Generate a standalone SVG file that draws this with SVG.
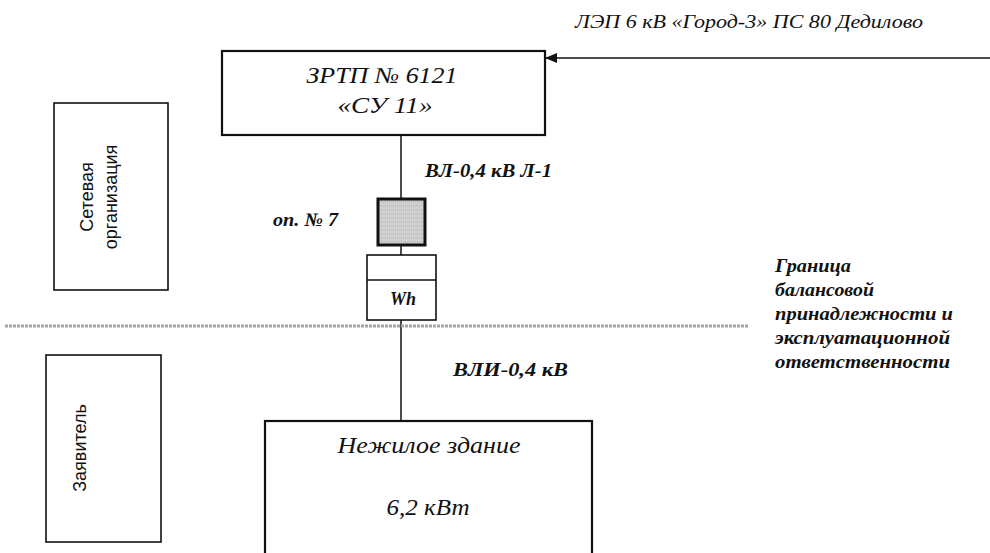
<svg xmlns="http://www.w3.org/2000/svg" width="990" height="553" viewBox="0 0 990 553">
<style>
.box{fill:#fff;stroke:#111;stroke-width:2.2}
.thin{fill:#fff;stroke:#111;stroke-width:1.6}
.ln{stroke:#111;stroke-width:1.5;fill:none}
.it{font-family:"Liberation Serif","Times New Roman",serif;font-style:italic;fill:#111}
.bi{font-family:"Liberation Serif","Times New Roman",serif;font-style:italic;font-weight:bold;fill:#111}
.sans{font-family:"Liberation Sans",Arial,sans-serif;fill:#111}
</style>
<defs>
<marker id="arr" markerWidth="12" markerHeight="10" refX="11" refY="5" orient="auto" markerUnits="userSpaceOnUse">
<path d="M0,0 L12,5 L0,10 z" fill="#111"/>
</marker>
<pattern id="dots" width="4" height="4" patternUnits="userSpaceOnUse">
<rect width="4" height="4" fill="#d0d0d0"/>
<rect x="1" y="1" width="1" height="1" fill="#a8a8a8"/>
<rect x="3" y="2" width="1" height="1" fill="#b8b8b8"/>
</pattern>
</defs>

<g id="connectors">
<line class="ln" x1="990" y1="58" x2="546" y2="58" marker-end="url(#arr)"/>
<line class="ln" x1="401" y1="135" x2="401" y2="198"/>
<line class="ln" x1="401" y1="246" x2="401" y2="255"/>
<line class="ln" x1="401" y1="320" x2="401" y2="421"/>
<line x1="5" y1="326" x2="748" y2="326" stroke="#a5a5a5" stroke-width="3" stroke-dasharray="3 1"/>
</g>

<g id="lep-label">
<text class="it" x="575" y="28" font-size="19" textLength="348" lengthAdjust="spacingAndGlyphs">ЛЭП 6 кВ «Город-3» ПС 80 Дедилово</text>
</g>

<g id="zrtp">
<rect class="box" x="222" y="51" width="323" height="84"/>
<text class="it" x="382" y="83" font-size="23" text-anchor="middle" textLength="151" lengthAdjust="spacingAndGlyphs">ЗРТП № 6121</text>
<text class="it" x="385" y="113" font-size="23" text-anchor="middle" textLength="95" lengthAdjust="spacingAndGlyphs">«СУ 11»</text>
</g>

<g id="vl-label">
<text class="bi" x="425" y="177" font-size="19.5" textLength="127" lengthAdjust="spacingAndGlyphs">ВЛ-0,4 кВ Л-1</text>
</g>

<g id="op7">
<rect x="378" y="199" width="47" height="46" fill="url(#dots)" stroke="#111" stroke-width="3"/>
<text class="bi" x="273" y="226" font-size="19" textLength="65" lengthAdjust="spacingAndGlyphs">оп. № 7</text>
</g>

<g id="meter">
<rect class="thin" x="367" y="255" width="69" height="65"/>
<line class="ln" x1="367" y1="280" x2="436" y2="280"/>
<text class="bi" x="390" y="305" font-size="18" textLength="26" lengthAdjust="spacingAndGlyphs">Wh</text>
</g>

<g id="setevaya">
<rect class="thin" x="54" y="103" width="114" height="187"/>
<text class="sans" font-size="18" text-anchor="middle" transform="translate(93,197) rotate(-90)">Сетевая</text>
<text class="sans" font-size="18" text-anchor="middle" transform="translate(117,197) rotate(-90)">организация</text>
</g>

<g id="boundary">
<text class="bi" x="775" y="272" font-size="19.5" textLength="76" lengthAdjust="spacingAndGlyphs">Граница</text>
<text class="bi" x="775" y="296" font-size="19.5" textLength="99" lengthAdjust="spacingAndGlyphs">балансовой</text>
<text class="bi" x="775" y="320" font-size="19.5" textLength="178" lengthAdjust="spacingAndGlyphs">принадлежности и</text>
<text class="bi" x="775" y="344" font-size="19.5" textLength="175" lengthAdjust="spacingAndGlyphs">эксплуатационной</text>
<text class="bi" x="775" y="368" font-size="19.5" textLength="175" lengthAdjust="spacingAndGlyphs">ответственности</text>
</g>

<g id="vli-label">
<text class="bi" x="453" y="376" font-size="19.5" textLength="115" lengthAdjust="spacingAndGlyphs">ВЛИ-0,4 кВ</text>
</g>

<g id="zayavitel">
<rect class="thin" x="46" y="355" width="115" height="187"/>
<text class="sans" font-size="18" text-anchor="middle" transform="translate(86,448) rotate(-90)">Заявитель</text>
</g>

<g id="building">
<rect class="box" x="265" y="421" width="327" height="140"/>
<text class="it" x="429" y="453" font-size="23" text-anchor="middle" textLength="183" lengthAdjust="spacingAndGlyphs">Нежилое здание</text>
<text class="it" x="428" y="515" font-size="23" text-anchor="middle" textLength="83" lengthAdjust="spacingAndGlyphs">6,2 кВт</text>
</g>
</svg>
